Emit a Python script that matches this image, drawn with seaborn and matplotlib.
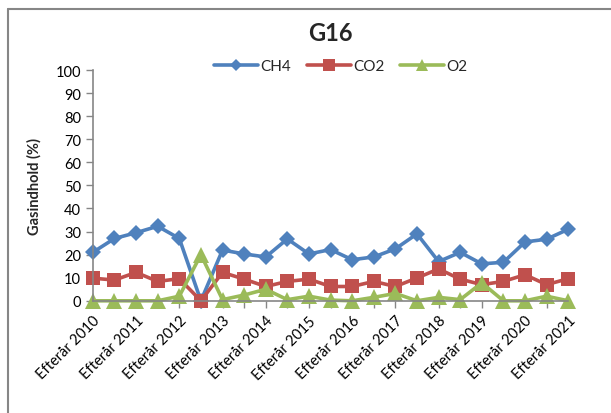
import matplotlib
matplotlib.use("Agg")
import matplotlib.pyplot as plt
from matplotlib.lines import Line2D
import numpy as np
import pandas as pd
import seaborn as sns

# Measurement rounds: spring and autumn each year
years = list(range(2010, 2022))
periods = []
for y in years:
    if y > 2010:
        periods.append(f"Forår {y}")
    periods.append(f"Efterår {y}")

ch4 = [21, 27, 29.5, 32.3, 27, 0, 22, 20.3, 19, 26.8, 20.3, 22.2,
       17.8, 19, 22.5, 29, 17, 21, 16, 16.7, 25.5, 26.7, 31]
co2 = [9.8, 9, 12.3, 8.4, 9.6, 0, 12.3, 9.4, 6.2, 8.4, 9.4, 6.2,
       6.2, 8.4, 6.2, 9.9, 13.8, 9.4, 7, 8.4, 11.3, 7, 9.6]
o2 = [0, 0, 0, 0, 2, 20, 0.5, 2.5, 5, 0.5, 2, 0.3,
      0, 1.5, 3.2, 0, 1.5, 0.5, 7.8, 0, 0, 2, 0]

series = ["CH4", "CO2", "O2"]
colors = {"CH4": "#4F81BD", "CO2": "#C0504D", "O2": "#9BBB59"}
markers = {"CH4": "D", "CO2": "s", "O2": "^"}
msize = {"CH4": 8, "CO2": 10, "O2": 11}

df = pd.DataFrame({
    "idx": np.tile(np.arange(len(periods)), 3),
    "periode": periods * 3,
    "gas": np.repeat(series, len(periods)),
    "værdi": ch4 + co2 + o2,
})

sns.set_theme(style="white")
plt.rcParams["font.family"] = ["Lato", "DejaVu Sans"]

fig = plt.figure(figsize=(6.11, 4.14), dpi=100)
ax = fig.add_axes([0.152, 0.271, 0.778, 0.5575])

for g in series:
    sub = df[df["gas"] == g]
    sns.lineplot(data=sub, x="idx", y="værdi", ax=ax, color=colors[g],
                 marker=markers[g], markersize=msize[g], markeredgewidth=0,
                 linewidth=2.6, sort=False, legend=False, clip_on=False)

ax.set_xlim(0, len(periods) - 1)
ax.set_ylim(0, 100)
ax.set_yticks(range(0, 101, 10))
ax.set_xticks(range(len(periods)))
ax.set_xticklabels([p if i % 2 == 0 else "" for i, p in enumerate(periods)],
                   rotation=45, ha="right", rotation_mode="anchor",
                   fontsize=10.5, color="#000000")
ax.tick_params(axis="y", labelsize=10.5, colors="#000000", length=5,
               width=1, color="#868686", direction="out", left=True)
ax.tick_params(axis="x", length=5, width=1, color="#868686",
               direction="out", bottom=True, pad=4)
for t in ax.get_yticklabels():
    t.set_color("#000000")

for s in ["top", "right"]:
    ax.spines[s].set_visible(False)
for s in ["left", "bottom"]:
    ax.spines[s].set_color("#868686")
    ax.spines[s].set_linewidth(1.2)
ax.set_xlabel("")
ax.set_ylabel("Gasindhold (%)", fontsize=10.5, fontweight="bold", labelpad=10)

fig.text(0.54, 0.92, "G16", ha="center", va="center", fontsize=17,
         fontweight="bold")

handles = [Line2D([0], [0], color=colors[g], marker=markers[g],
                  markersize=msize[g] * 0.8, markeredgewidth=0, linewidth=2.6)
           for g in series]
fig.legend(handles, series, loc="center", bbox_to_anchor=(0.558, 0.838),
           ncol=3, frameon=False, fontsize=11, handlelength=2.9,
           columnspacing=1.0, handletextpad=0.15)

# chart frame
fig.add_artist(Line2D([0.013, 0.013], [0, 0.976], transform=fig.transFigure,
                      color="#868686", linewidth=1.5))
fig.add_artist(Line2D([0.013, 1.0], [0.976, 0.976], transform=fig.transFigure,
                      color="#868686", linewidth=1.5))

fig.savefig("out.png", dpi=100)
